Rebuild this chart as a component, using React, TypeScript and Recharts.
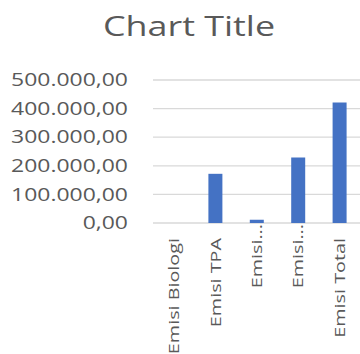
import React from "react";
import { BarChart, Bar, XAxis, YAxis, CartesianGrid } from "recharts";

// categories as shown on the axis (Excel truncates two of them)
const categories = ["Emisi Biologi", "Emisi TPA", "Emisi...", "Emisi...", "Emisi Total"];
const emisiValues = [0, 172000, 11500, 229000, 421000];
const yTicks = [0, 100000, 200000, 300000, 400000, 500000];

const FONT = "'Open Sans', sans-serif";
const GREY = "#595959";

const data = categories.map((name, i) => ({ name, value: emisiValues[i] }));

// 500000 -> "500.000,00"
function formatId(v: number): string {
  const parts = Math.round(v).toString().replace(/\B(?=(\d{3})+(?!\d))/g, ".");
  return parts + ",00";
}

const YTick = (props: any) => {
  const { x, y, payload } = props;
  return (
    <text
      transform={`translate(${x},${y}) scale(1.32,1)`}
      textAnchor="end"
      dy="0.36em"
      fontSize={17.4}
      fontFamily={FONT}
      fill={GREY}
    >
      {formatId(payload.value)}
    </text>
  );
};

const XTick = (props: any) => {
  const { x, payload } = props;
  const label = String(payload.value);
  // truncated labels start right under the axis
  const top = label.endsWith("...") ? 224 : 238;
  return (
    <text
      transform={`translate(${x + 5.4},${top}) rotate(-90) scale(1.32,1)`}
      textAnchor="end"
      fontSize={15}
      fontFamily={FONT}
      fill={GREY}
    >
      {label}
    </text>
  );
};

export default function App() {
  return (
    <div style={{ position: "absolute", left: 0, top: 0, width: 360, height: 354, background: "#fff", overflow: "hidden" }}>
      <svg width={360} height={60} style={{ position: "absolute", left: 0, top: 0 }}>
        <text
          transform="translate(189,35.7) scale(1.35,1)"
          textAnchor="middle"
          fontSize={26.6}
          fontFamily={FONT}
          fill={GREY}
        >
          Chart Title
        </text>
      </svg>
      <BarChart
        width={360}
        height={354}
        data={data}
        margin={{ top: 80, right: 0, left: 0, bottom: 0 }}
      >
        <CartesianGrid vertical={false} stroke="#d9d9d9" strokeWidth={1.3} />
        <XAxis
          dataKey="name"
          height={131}
          axisLine={false}
          tickLine={false}
          interval={0}
          tick={<XTick />}
        />
        <YAxis
          width={153}
          domain={[0, 500000]}
          ticks={yTicks}
          axisLine={false}
          tickLine={false}
          tickSize={0}
          tickMargin={25}
          tick={<YTick />}
        />
        <Bar dataKey="value" fill="#4472c4" barSize={14} isAnimationActive={false} />
      </BarChart>
    </div>
  );
}
